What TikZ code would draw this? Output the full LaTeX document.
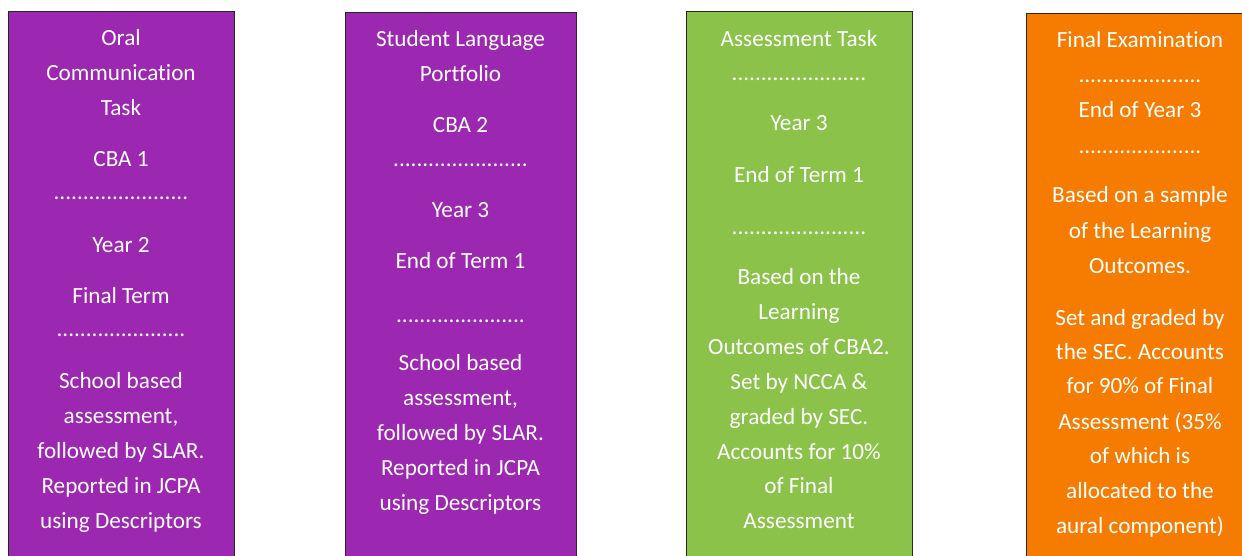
\documentclass[tikz,border=0pt]{standalone}
\usepackage{fontspec}
\setmainfont{Carlito}[Ligatures=NoCommon]
\definecolor{cpurple}{HTML}{9C27B0}
\definecolor{cgreen}{HTML}{8BC34A}
\definecolor{corange}{HTML}{F57C00}
\begin{document}
\begin{tikzpicture}[x=1pt,y=-1pt,
  panel/.style={draw=black!85, line width=1.3pt, anchor=north west, inner sep=0pt, minimum height=580pt},
  txt/.style={text=white, font=\fontsize{23.2}{28}\selectfont, anchor=base, inner sep=0pt}]
\useasboundingbox (0,0) rectangle (1242,556);
\node[panel, fill=cpurple, minimum width=226.5pt] (box1) at (7.5,11) {};
\node[panel, fill=cpurple, minimum width=231pt] (box2) at (345,12) {};
\node[panel, fill=cgreen, minimum width=226.5pt] (box3) at (685.5,11) {};
\node[panel, fill=corange, minimum width=240pt] (box4) at (1026,13) {};
% box 1
\foreach \t/\y [count=\i] in {Oral/46, Communication/81, Task/116, CBA 1/167,
  {.......................}/200, Year 2/252, Final Term/303, {......................}/336,
  School based/388, {assessment,}/423, followed by SLAR./458, Reported in JCPA/493,
  using Descriptors/528}
  \node[txt] (a\i) at (121,\y) {\t};
% box 2
\foreach \t/\y [count=\i] in {Student Language/47, Portfolio/82, CBA 2/133,
  {.......................}/167, Year 3/218, End of Term 1/269, {......................}/322,
  School based/370, {assessment,}/405, followed by SLAR./440, Reported in JCPA/475,
  using Descriptors/510}
  \node[txt] (b\i) at (460.5,\y) {\t};
% box 3
\foreach \t/\y [count=\i] in {Assessment Task/47, {.......................}/81, Year 3/131,
  End of Term 1/183, {.......................}/235, Based on the/284, Learning/319,
  Outcomes of CBA2./354, Set by NCCA \&/389, graded by SEC./424, Accounts for 10\%/459,
  of Final/493, Assessment/528}
  \node[txt] (c\i) at (799,\y) {\t};
% box 4
\foreach \t/\y [count=\i] in {Final Examination/48, {.....................}/83, End of Year 3/118,
  {.....................}/154, Based on a sample/203, of the Learning/238, Outcomes./273,
  Set and graded by/325, the SEC. Accounts/359, for 90\% of Final/393,
  Assessment (35\%/429, of which is/463, allocated to the/498, aural component)/533}
  \node[txt] (d\i) at (1140,\y) {\t};
\end{tikzpicture}
\end{document}
